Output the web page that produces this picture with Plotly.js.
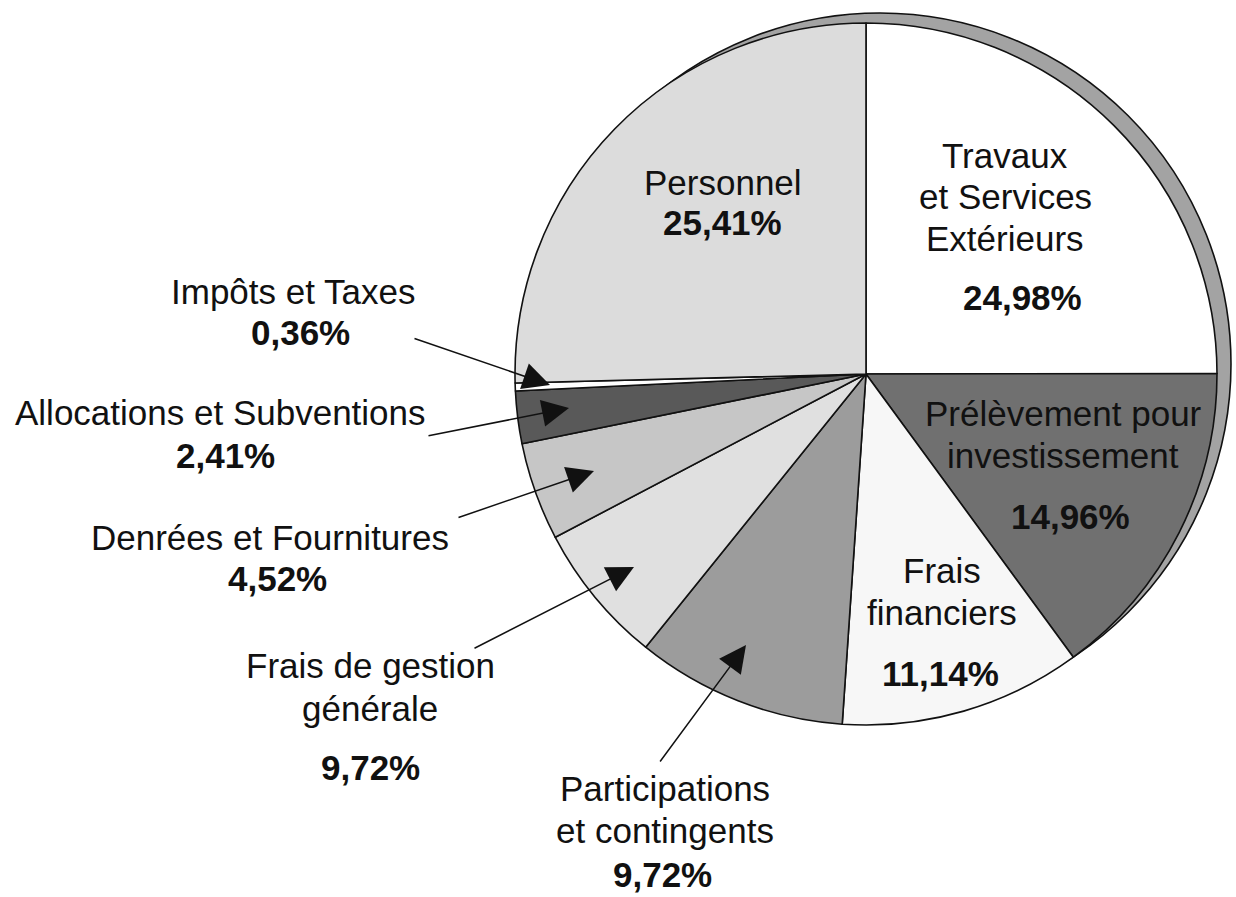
<!DOCTYPE html>
<html>
<head>
<meta charset="utf-8">
<script src="https://cdn.plot.ly/plotly-3.0.1.min.js"></script>
<style>html,body{margin:0;padding:0;background:#fff;}#chart{width:1236px;height:897px;}</style>
</head>
<body>
<div id="chart"></div>
<script>
// ---- DATA (slices go clockwise from 12 o'clock) ----
const categories = [
  'Travaux et Services Extérieurs',
  'Prélèvement pour investissement',
  'Frais financiers',
  'Participations et contingents',
  'Frais de gestion générale',
  'Denrées et Fournitures',
  'Allocations et Subventions',
  'Impôts et Taxes',
  'Personnel'
];
// slice sizes as drawn (the "Frais de gestion générale" wedge is drawn ~6.5% although printed 9,72%)
const values = [24.98, 14.96, 11.14, 9.72, 6.50, 4.52, 2.41, 0.36, 25.41];
// printed percentage labels
const pctLabels = ['24,98%', '14,96%', '11,14%', '9,72%', '9,72%', '4,52%', '2,41%', '0,36%', '25,41%'];
// printed label lines
const labelLines = [
  ['Travaux', 'et Services', 'Extérieurs'],
  ['Prélèvement pour', 'investissement'],
  ['Frais', 'financiers'],
  ['Participations', 'et contingents'],
  ['Frais de gestion', 'générale'],
  ['Denrées et Fournitures'],
  ['Allocations et Subventions'],
  ['Impôts et Taxes'],
  ['Personnel']
];

// ---- STYLE / LAYOUT ----
const W = 1236, H = 897;
const fx = x => x / W, fy = y => 1 - y / H;
const colors = ['#ffffff', '#707070', '#f7f7f7', '#9c9c9c', '#e0e0e0', '#c6c6c6', '#595959', '#ffffff', '#dcdcdc'];
const cx = 866, cy = 374, R = 351;
const FONT = '"Liberation Sans", Arial, Helvetica, sans-serif';
const FS = 35;

// text placement (pixel centres): name lines then percentage
const textPos = [
  {lines: [[1005,155],[1005,196],[1005,238]], pct: [1022,297]},
  {lines: [[1063,413],[1063,455]], pct: [1070,516]},
  {lines: [[942,570],[942,612]], pct: [940,673]},
  {lines: [[665,788],[665,830]], pct: [662,874]},
  {lines: [[370,665],[370,708]], pct: [370,767]},
  {lines: [[270,537]], pct: [277,578]},
  {lines: [[220,412]], pct: [225,455]},
  {lines: [[293,291]], pct: [300,332]},
  {lines: [[723,183]], pct: [722,222]}
];
// arrows: [tail, tip] pixel positions, for the outside labels
const arrowPos = {
  7: [[413,338],[550,385]],
  6: [[427,436],[569,408]],
  5: [[457,518],[594,471]],
  4: [[473,649],[634,567]],
  3: [[659,763],[746,645]]
};

const annotations = [];
textPos.forEach((tp, i) => {
  tp.lines.forEach((p, j) => {
    annotations.push({
      xref: 'paper', yref: 'paper', x: fx(p[0]), y: fy(p[1]),
      xanchor: 'center', yanchor: 'middle', showarrow: false,
      text: labelLines[i][j], font: {family: FONT, size: FS, color: '#111'}
    });
  });
  annotations.push({
    xref: 'paper', yref: 'paper', x: fx(tp.pct[0]), y: fy(tp.pct[1]),
    xanchor: 'center', yanchor: 'middle', showarrow: false,
    text: '<b>' + pctLabels[i] + '</b>', font: {family: FONT, size: FS, color: '#111'}
  });
});
Object.keys(arrowPos).forEach(k => {
  const [tail, tip] = arrowPos[k];
  annotations.push({
    xref: 'paper', yref: 'paper', x: fx(tip[0]), y: fy(tip[1]),
    axref: 'pixel', ayref: 'pixel', ax: tail[0] - tip[0], ay: tail[1] - tip[1],
    text: '', showarrow: true, arrowhead: 2, arrowsize: 3.6, arrowwidth: 1.5,
    arrowcolor: '#111', standoff: 0, startstandoff: 0
  });
});

// rim (3D edge) behind the pie
const off = [14, -10];
const shapes = [{
  type: 'circle', xref: 'paper', yref: 'paper', layer: 'below',
  x0: fx(cx + off[0] - R), x1: fx(cx + off[0] + R),
  y0: fy(cy + off[1] + R), y1: fy(cy + off[1] - R),
  fillcolor: '#a3a3a3', line: {color: '#111', width: 1.6}
}];

const trace = {
  type: 'pie',
  labels: categories,
  values: values,
  sort: false,
  direction: 'clockwise',
  rotation: 0,
  textinfo: 'none',
  hoverinfo: 'label+percent',
  marker: {colors: colors, line: {color: '#111', width: 1.6}},
  domain: {x: [fx(cx - R), fx(cx + R)], y: [fy(cy + R), fy(cy - R)]},
  showlegend: false
};

Plotly.newPlot('chart', [trace], {
  width: W, height: H,
  margin: {l: 0, r: 0, t: 0, b: 0},
  paper_bgcolor: '#ffffff', plot_bgcolor: '#ffffff',
  showlegend: false,
  shapes: shapes,
  annotations: annotations
}, {displayModeBar: false, staticPlot: true});
</script>
</body>
</html>
